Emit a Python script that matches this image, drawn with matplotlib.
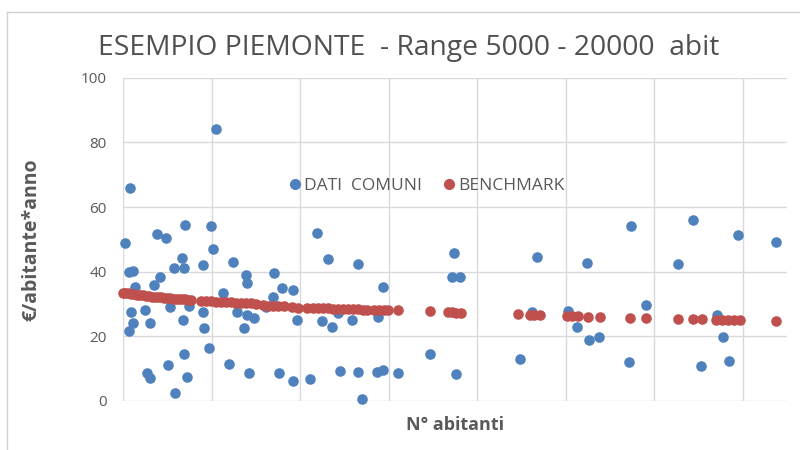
import numpy as np
import matplotlib
matplotlib.use("Agg")
import matplotlib.pyplot as plt
from matplotlib.lines import Line2D

# dati comuni (abitanti, euro per abitante all'anno)
comuni_ab = [5045, 5158, 7101, 6401, 6988, 5768, 5971, 7033, 5136, 5226,
             6333, 6152, 6378, 6807, 5836, 5700, 5271, 7259, 5181, 5497,
             6062, 6491, 6807, 5226, 5136, 5610, 6355, 6830, 6943, 6378,
             6017, 5542, 5610, 6446, 6175, 7395, 7485, 7779, 7801, 7575,
             7801, 7959, 7733, 7846, 8411, 8592, 8840, 8389, 8231, 8931,
             8524, 8840, 9224, 9382, 9631, 9495, 9721, 9857, 9902, 10309,
             10173, 10760, 10873, 10309, 10399, 10738, 10873, 11212, 11935, 12477,
             12432, 12613, 12522, 14352, 13968, 14239, 15053, 15256, 15482, 15527,
             15753, 16476, 16815, 16430, 17537, 17876, 18418, 18554, 18057, 18690,
             18893, 19752]
comuni_val = [48.9, 66.0, 84.2, 54.5, 54.2, 51.7, 50.3, 47.1, 39.9, 40.2,
              44.3, 41.2, 41.2, 42.1, 38.4, 35.9, 35.3, 33.4, 27.6, 28.2,
              29.1, 29.4, 27.6, 24.1, 21.7, 24.1, 25.1, 22.6, 16.4, 14.6,
              11.1, 8.7, 7.1, 7.4, 2.5, 11.5, 43.0, 39.0, 36.5, 27.6,
              26.6, 25.7, 22.6, 8.7, 39.6, 35.0, 34.4, 32.2, 29.1, 25.1,
              8.7, 6.2, 6.8, 52.0, 43.9, 24.8, 22.9, 27.2, 9.3, 42.4,
              25.1, 26.0, 35.3, 9.0, 0.6, 9.0, 9.6, 8.7, 14.6, 45.8,
              38.4, 38.4, 8.4, 44.6, 13.0, 27.6, 27.9, 22.9, 42.7, 18.9,
              19.8, 54.2, 29.7, 12.1, 42.4, 56.0, 26.6, 19.8, 10.8, 12.4,
              51.4, 49.1]

# benchmark
bench_ab = [5000, 5050, 5110, 5180, 5250, 5320, 5380, 5450, 5520, 5590,
            5660, 5720, 5790, 5860, 5930, 5990, 6060, 6130, 6200, 6270,
            6330, 6400, 6470, 6540, 6762, 6875, 6988, 7101, 7214, 7327,
            7440, 7553, 7666, 7779, 7892, 8005, 8163, 8276, 8389, 8502,
            8637, 8818, 8953, 9157, 9292, 9405, 9518, 9631, 9744, 9857,
            9970, 10083, 10196, 10309, 10422, 10512, 10670, 10783, 10896, 10986,
            11212, 11935, 12342, 12432, 12522, 12635, 13923, 14194, 14284, 14420,
            15030, 15143, 15279, 15505, 15776, 16453, 16815, 17537, 17876, 18079,
            18396, 18531, 18667, 18803, 18938, 19752]
bench_val = [33.5, 33.3, 33.3, 33.1, 33.0, 32.9, 32.9, 32.7, 32.6, 32.5,
             32.3, 32.3, 32.2, 32.1, 31.9, 31.9, 31.8, 31.7, 31.6, 31.5,
             31.4, 31.4, 31.2, 31.1, 30.9, 30.8, 30.8, 30.7, 30.6, 30.6,
             30.5, 30.4, 30.3, 30.3, 30.2, 30.1, 29.6, 29.5, 29.4, 29.3,
             29.3, 29.0, 28.9, 28.9, 28.8, 28.8, 28.7, 28.7, 28.6, 28.6,
             28.5, 28.5, 28.4, 28.4, 28.3, 28.3, 28.1, 28.1, 28.0, 28.0,
             28.0, 27.7, 27.4, 27.4, 27.3, 27.3, 26.8, 26.6, 26.6, 26.5,
             26.3, 26.2, 26.2, 26.1, 26.0, 25.7, 25.6, 25.5, 25.3, 25.3,
             25.2, 25.2, 25.1, 25.1, 25.1, 24.8]

blu = "#4F81BD"
rosso = "#C0504D"
grigio = "#595959"

plt.rcParams['font.family'] = ['Open Sans', 'DejaVu Sans']

fig = plt.figure(figsize=(8, 4.5), dpi=100)
ax = fig.add_axes([0.154, 0.109, 0.83, 0.718])

ax.scatter(comuni_ab, comuni_val, s=58, color=blu, zorder=3, clip_on=False,
           linewidths=0)
ax.scatter(bench_ab, bench_val, s=58, color=rosso, zorder=4, clip_on=False,
           linewidths=0)

ax.set_xlim(5000, 20000)
ax.set_ylim(0, 100)
ax.set_xticks(np.arange(5000, 20000, 2000))
ax.set_yticks(np.arange(0, 101, 20))
ax.set_xticklabels([])
ax.tick_params(length=0, colors=grigio, labelsize=11)
ax.tick_params(axis='y', pad=12)
ax.grid(True, color="#D9D9D9", linewidth=1)
ax.set_axisbelow(True)
for sp in ax.spines.values():
    sp.set_visible(False)

ax.set_ylabel("€/abitante*anno", fontsize=14, fontweight='bold', color=grigio,
              labelpad=28)
ax.set_xlabel("N° abitanti", fontsize=13, fontweight='bold', color=grigio,
              labelpad=7)

fig.text(0.511, 0.893, "ESEMPIO PIEMONTE  - Range 5000 - 20000  abit",
         ha='center', va='center', fontsize=20.3, color="#505050")

handles = [Line2D([], [], marker='o', linestyle='', color=blu, markersize=7),
           Line2D([], [], marker='o', linestyle='', color=rosso, markersize=7)]
leg = ax.legend(handles, ["DATI  COMUNI", "BENCHMARK"], loc='center',
                bbox_to_anchor=(0.455, 0.666), ncol=2, frameon=False,
                fontsize=12.5, handlelength=1.0, handletextpad=0.0,
                columnspacing=1.1, borderpad=0, borderaxespad=0)
for t in leg.get_texts():
    t.set_color(grigio)

# cornice del grafico
fig.add_artist(Line2D([7 / 800, 1], [1 - 12 / 450, 1 - 12 / 450],
                      color="#D0D0D0", linewidth=1))
fig.add_artist(Line2D([7 / 800, 7 / 800], [0, 1 - 12 / 450],
                      color="#D0D0D0", linewidth=1))

fig.savefig("out.png", dpi=100)
